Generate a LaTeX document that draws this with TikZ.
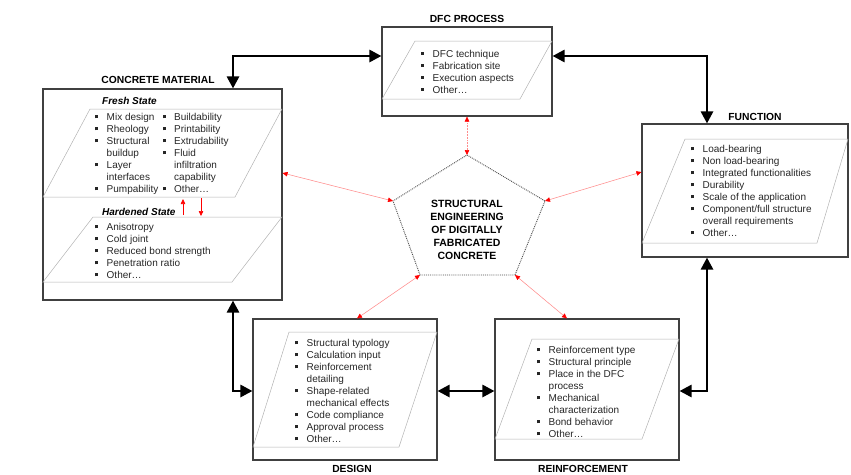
\documentclass[tikz,border=0pt]{standalone}
\usepackage{fontspec}
\setmainfont{Liberation Sans}
\usetikzlibrary{arrows.meta,calc}
\newcommand{\bul}{\rule[2.2pt]{3.2pt}{3.2pt}}
\newcommand{\blist}[1]{\begin{tabular}[t]{@{}l@{\hspace{8.3pt}}l@{}}#1\end{tabular}}
\tikzset{
  box/.style={draw=black!75, line width=1.1pt, inner sep=0pt},
  para/.style={draw=black!30, line width=0.5pt},
  lst/.style={anchor=base west, inner sep=0pt, text=black!85, font=\fontsize{10pt}{12pt}\selectfont},
  ttl/.style={font=\bfseries\fontsize{10.3pt}{12pt}\selectfont, inner sep=0pt},
  sub/.style={anchor=west, font=\bfseries\itshape\fontsize{10pt}{12pt}\selectfont, inner sep=0pt},
  bigarr/.style={line width=2.7pt, black, line join=miter,
    {Triangle[length=12pt,width=12pt]}-{Triangle[length=12pt,width=12pt]}},
  redarr/.style={draw=red!45, line width=0.55pt,
    {Triangle[length=5pt,width=4.5pt,color=red,fill=red]}-{Triangle[length=5pt,width=4.5pt,color=red,fill=red]}},
  pent/.style={draw=black!70, line width=0.9pt, densely dotted},
  smallred/.style={draw=red, line width=0.6pt, -{Triangle[length=5pt,width=4.5pt,color=red,fill=red]}}
}
\begin{document}
\begin{tikzpicture}[x=1pt,y=-1pt]
\useasboundingbox (0,0) rectangle (851,474);

% boxes
\node[box, minimum width=170pt, minimum height=89pt] (dfc) at (467,71.5) {};
\node[box, minimum width=239pt, minimum height=211pt] (concrete) at (162.5,194.5) {};
\node[box, minimum width=206pt, minimum height=133pt] (function) at (745,190.5) {};
\node[box, minimum width=184pt, minimum height=141pt] (design) at (345,389.5) {};
\node[box, minimum width=184pt, minimum height=141pt] (reinf) at (587,389.5) {};

% titles
\node[ttl] (tdfc) at (467,19) {DFC PROCESS};
\node[ttl] (tcon) at (158,80) {CONCRETE MATERIAL};
\node[ttl] (tfun) at (755,117) {FUNCTION};
\node[ttl] (tdes) at (352,469) {DESIGN};
\node[ttl] (trei) at (583,469) {REINFORCEMENT};

% parallelograms
\draw[para] (382,99) -- (415,41) -- (552,41) -- (520,99) -- cycle;
\draw[para] (43,197) -- (90,109) -- (282,109) -- (235,197) -- cycle;
\draw[para] (43,282) -- (93,217) -- (282,217) -- (232,282) -- cycle;
\draw[para] (642,243) -- (685,139) -- (848,139) -- (817,243) -- cycle;
\draw[para] (253,447) -- (289,332) -- (437,332) -- (399,447) -- cycle;
\draw[para] (495,439) -- (532,339) -- (679,339) -- (642,439) -- cycle;

% sub labels
\node[sub] (fresh) at (102,101) {Fresh State};
\node[sub] (hard) at (102,212) {Hardened State};

% lists
\node[lst] (ldfc) at (421,57) {\blist{\bul & DFC technique\\ \bul & Fabrication site\\ \bul & Execution aspects\\ \bul & Other\ldots}};
\node[lst] (lfresh) at (95,120.5) {\begin{tabular}[t]{@{}l@{\hspace{8.3pt}}p{56pt}@{}l@{\hspace{8.3pt}}l@{}}
\bul & Mix design & \bul & Buildability\\
\bul & Rheology & \bul & Printability\\
\bul & Structural & \bul & Extrudability\\
 & buildup & \bul & Fluid\\
\bul & Layer & & infiltration\\
 & interfaces & & capability\\
\bul & Pumpability & \bul & Other\ldots
\end{tabular}};
\node[lst] (lhard) at (95,230.5) {\blist{\bul & Anisotropy\\ \bul & Cold joint\\ \bul & Reduced bond strength\\ \bul & Penetration ratio\\ \bul & Other\ldots}};
\node[lst] (lfun) at (691,152.5) {\blist{\bul & Load-bearing\\ \bul & Non load-bearing\\ \bul & Integrated functionalities\\ \bul & Durability\\ \bul & Scale of the application\\ \bul & Component/full structure\\ & overall requirements\\ \bul & Other\ldots}};
\node[lst] (ldes) at (295,346.5) {\blist{\bul & Structural typology\\ \bul & Calculation input\\ \bul & Reinforcement\\ & detailing\\ \bul & Shape-related\\ & mechanical effects\\ \bul & Code compliance\\ \bul & Approval process\\ \bul & Other\ldots}};
\node[lst] (lrei) at (537,353.5) {\blist{\bul & Reinforcement type\\ \bul & Structural principle\\ \bul & Place in the DFC\\ & process\\ \bul & Mechanical\\ & characterization\\ \bul & Bond behavior\\ \bul & Other\ldots}};

% small red arrows between states
\coordinate (su1) at (183,215); \coordinate (su2) at (183,199);
\coordinate (sd1) at (201,198); \coordinate (sd2) at (201,216);
\draw[smallred] (su1) -- (su2);
\draw[smallred] (sd1) -- (sd2);

% pentagon
\coordinate (p1) at (467,155);
\coordinate (p2) at (393,201);
\coordinate (p3) at (420,275);
\coordinate (p4) at (515,275);
\coordinate (p5) at (545,201);
\draw[pent] (p1) -- (p5) -- (p4) -- (p3) -- (p2) -- cycle;
\node[font=\bfseries\fontsize{10.5pt}{13pt}\selectfont, align=center, inner sep=0pt] (core) at (467,229.5)
  {STRUCTURAL\\ENGINEERING\\OF DIGITALLY\\FABRICATED\\CONCRETE};

% red connectors
\coordinate (r1) at (282,173);
\coordinate (r2) at (642,172);
\coordinate (r3) at (357,319);
\coordinate (r4) at (567,319);
\draw[redarr, densely dotted] (dfc.south) -- (p1);
\draw[redarr] (concrete.east |- r1) -- (p2);
\draw[redarr] (function.west |- r2) -- (p5);
\draw[redarr] (design.north -| r3) -- (p3);
\draw[redarr] (reinf.north -| r4) -- (p4);

% black connectors
\coordinate (jA) at (233,56);
\coordinate (jB) at (707,56);
\coordinate (jC) at (707,391);
\coordinate (jD) at (233,391);
\draw[bigarr] (concrete.north -| jA) -- (jA) -- (dfc.west |- jA);
\draw[bigarr] (dfc.east |- jB) -- (jB) -- (function.north -| jB);
\draw[bigarr] (function.south -| jC) -- (jC) -- (reinf.east |- jC);
\draw[bigarr] (reinf.west |- jC) -- (design.east |- jC);
\draw[bigarr] (design.west |- jD) -- (jD) -- (concrete.south -| jD);
\end{tikzpicture}
\end{document}
